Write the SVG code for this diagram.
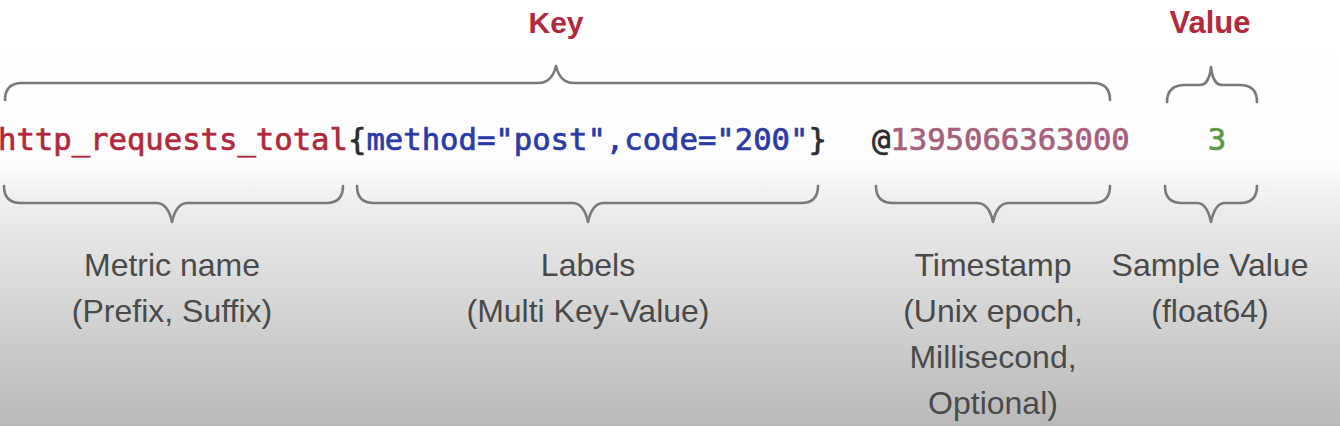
<svg xmlns="http://www.w3.org/2000/svg" width="1340" height="426" viewBox="0 0 1340 426">
<defs>
<linearGradient id="bg" x1="0" y1="0" x2="0" y2="1">
<stop offset="0" stop-color="#ffffff"/>
<stop offset="0.38" stop-color="#fdfdfd"/>
<stop offset="0.5" stop-color="#ebebeb"/>
<stop offset="1" stop-color="#b9b9b9"/>
</linearGradient>
</defs>
<style>
.brace{fill:none;stroke:#7a7a7a;stroke-width:2.6;stroke-linecap:round;stroke-linejoin:round}
.code{font-family:"DejaVu Sans Mono","Liberation Mono",monospace;font-size:30.6px;stroke-width:0.7px}
.red{fill:#b0283c;stroke:#b0283c}
.dark{fill:#2b2b2b;stroke:#2b2b2b}
.blue{fill:#2a3aa6;stroke:#2a3aa6}
.mauve{fill:#a5607c;stroke:#a5607c}
.green{fill:#5c9a44;stroke:#5c9a44}
.title{font-family:"Liberation Sans",Arial,sans-serif;font-weight:bold;fill:#b3283a;text-anchor:middle}
.lbl{font-family:"Liberation Sans",Arial,sans-serif;font-size:32px;fill:#4a4a4a;text-anchor:middle}
</style>
<rect x="0" y="0" width="1340" height="426" fill="url(#bg)"/>
<g id="connectors">
<path class="brace" d="M5,100 Q5,83 22,83 L538,83 Q552,83 556,66 Q560,83 574,83 L1093,83 Q1110,83 1110,100"/>
<path class="brace" d="M1167,102 Q1167,85 1185,85 L1200,85 Q1209,85 1211,67 Q1213,85 1222,85 L1240,85 Q1257,85 1257,102"/>
<path class="brace" d="M4,186 Q4,203 21,203 L156,203 Q168,203 172,222 Q176,203 188,203 L326,203 Q343,203 343,186"/>
<path class="brace" d="M357,186 Q357,203 374,203 L572,203 Q584,203 588,222 Q592,203 604,203 L801,203 Q818,203 818,186"/>
<path class="brace" d="M876,186 Q876,203 893,203 L977,203 Q989,203 993,222 Q997,203 1009,203 L1093,203 Q1110,203 1110,186"/>
<path class="brace" d="M1165,186 Q1165,203 1182,203 L1197,203 Q1207,203 1211,222 Q1215,203 1225,203 L1240,203 Q1257,203 1257,186"/>
</g>
<g id="key"><text class="title" x="556" y="33" font-size="30">Key</text></g>
<g id="value"><text class="title" x="1210" y="33" font-size="31">Value</text></g>
<g id="code">
<text class="code" x="-2" y="150"><tspan class="red">http_requests_total</tspan><tspan class="dark">{</tspan><tspan class="blue">method="post",code="200"</tspan><tspan class="dark">}</tspan><tspan class="dark" dx="45">@</tspan><tspan class="mauve">1395066363000</tspan></text>
<text class="code green" x="1217" y="150" text-anchor="middle">3</text>
</g>
<g id="metric-name">
<text class="lbl" x="172" y="276">Metric name</text>
<text class="lbl" x="172" y="322">(Prefix, Suffix)</text>
</g>
<g id="labels">
<text class="lbl" x="588" y="276">Labels</text>
<text class="lbl" x="588" y="322">(Multi Key-Value)</text>
</g>
<g id="timestamp">
<text class="lbl" x="993" y="276">Timestamp</text>
<text class="lbl" x="993" y="322">(Unix epoch,</text>
<text class="lbl" x="993" y="368">Millisecond,</text>
<text class="lbl" x="993" y="414">Optional)</text>
</g>
<g id="sample-value">
<text class="lbl" x="1210" y="276">Sample Value</text>
<text class="lbl" x="1210" y="322">(float64)</text>
</g>
</svg>
